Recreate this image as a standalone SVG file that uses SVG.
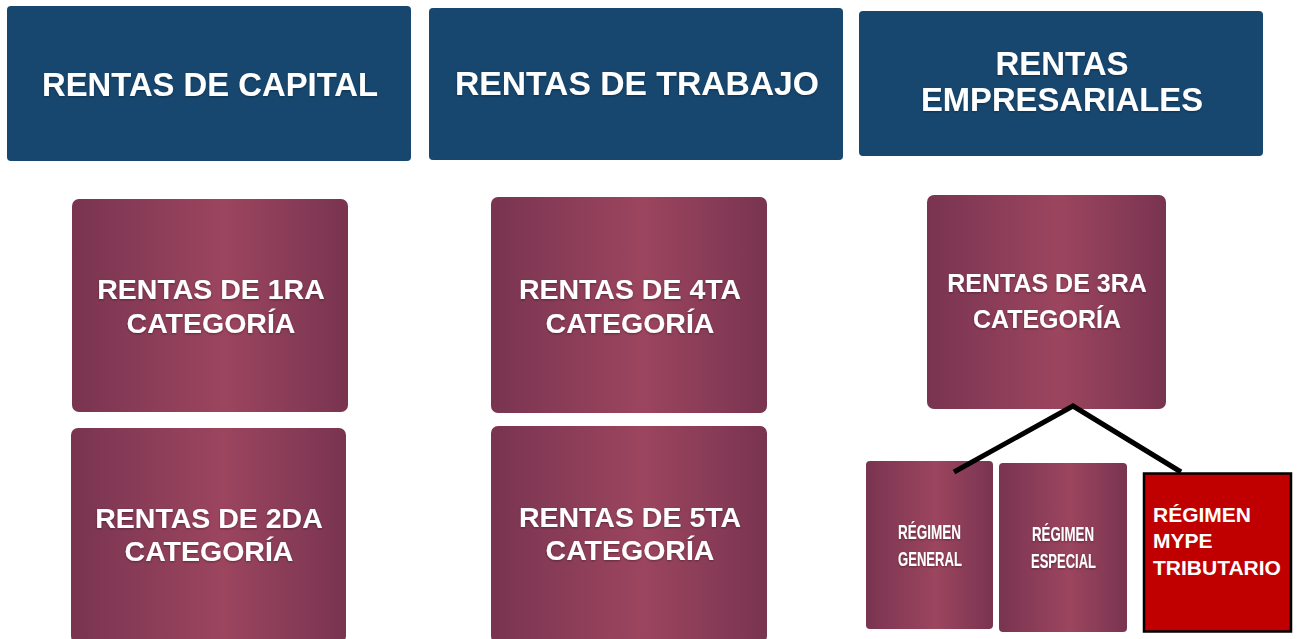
<svg xmlns="http://www.w3.org/2000/svg" width="1299" height="639" viewBox="0 0 1299 639">
  <defs>
    <linearGradient id="maroon" x1="0" y1="0" x2="1" y2="0">
      <stop offset="0" stop-color="#793450"/>
      <stop offset="0.55" stop-color="#9C455F"/>
      <stop offset="1" stop-color="#793450"/>
    </linearGradient>
    <filter id="glow" x="-5%" y="-20%" width="110%" height="140%">
      <feGaussianBlur in="SourceAlpha" stdDeviation="0.8"/>
      <feOffset dx="0" dy="0.5" result="b"/>
      <feFlood flood-color="#000" flood-opacity="0.35"/>
      <feComposite in2="b" operator="in"/>
      <feMerge><feMergeNode/><feMergeNode in="SourceGraphic"/></feMerge>
    </filter>
  </defs>
  <style>
    .hdr { fill: #17476F; }
    .cat { fill: url(#maroon); }
    .ht { font-family: "Liberation Sans", Arial, sans-serif; font-weight: bold; font-size: 33px; fill: #ffffff; text-anchor: middle; }
    .ct { font-family: "Liberation Sans", Arial, sans-serif; font-weight: bold; font-size: 28.5px; fill: #ffffff; text-anchor: middle; }
    .rt { font-family: "Liberation Sans Narrow", "Liberation Sans", Arial, sans-serif; font-weight: bold; font-size: 20px; fill: #ffffff; }
    .mt { font-family: "Liberation Sans", Arial, sans-serif; font-weight: bold; font-size: 21px; fill: #ffffff; }
    .conn { stroke: #000000; stroke-width: 5; fill: none; }
  </style>
  <rect width="1299" height="639" fill="#ffffff"/>

  <g id="capital">
    <rect class="hdr" x="7" y="6" width="404" height="155" rx="4"/>
    <text class="ht" x="210" y="96" textLength="336" lengthAdjust="spacingAndGlyphs" filter="url(#glow)">RENTAS DE CAPITAL</text>
  </g>
  <g id="trabajo">
    <rect class="hdr" x="429" y="8" width="414" height="152" rx="4"/>
    <text class="ht" x="637" y="95" textLength="364" lengthAdjust="spacingAndGlyphs" filter="url(#glow)">RENTAS DE TRABAJO</text>
  </g>
  <g id="empresariales">
    <rect class="hdr" x="859" y="11" width="404" height="145" rx="4"/>
    <text class="ht" x="1062" y="75" filter="url(#glow)">RENTAS</text>
    <text class="ht" x="1062" y="111" textLength="282" lengthAdjust="spacingAndGlyphs" filter="url(#glow)">EMPRESARIALES</text>
  </g>

  <g id="cat1">
    <rect class="cat" x="72" y="199" width="276" height="213" rx="7"/>
    <text class="ct" x="211" y="299" filter="url(#glow)">RENTAS DE 1RA</text>
    <text class="ct" x="211" y="333" filter="url(#glow)">CATEGORÍA</text>
  </g>
  <g id="cat2">
    <rect class="cat" x="71" y="428" width="275" height="215" rx="7"/>
    <text class="ct" x="209" y="528" filter="url(#glow)">RENTAS DE 2DA</text>
    <text class="ct" x="209" y="561" filter="url(#glow)">CATEGORÍA</text>
  </g>
  <g id="cat4">
    <rect class="cat" x="491" y="197" width="276" height="216" rx="7"/>
    <text class="ct" x="630" y="299" filter="url(#glow)">RENTAS DE 4TA</text>
    <text class="ct" x="630" y="333" filter="url(#glow)">CATEGORÍA</text>
  </g>
  <g id="cat5">
    <rect class="cat" x="491" y="426" width="276" height="217" rx="7"/>
    <text class="ct" x="630" y="527" filter="url(#glow)">RENTAS DE 5TA</text>
    <text class="ct" x="630" y="560" filter="url(#glow)">CATEGORÍA</text>
  </g>
  <g id="cat3">
    <rect class="cat" x="927" y="195" width="239" height="214" rx="7"/>
    <text class="ct" x="1047" y="292" style="font-size:25px" filter="url(#glow)">RENTAS DE 3RA</text>
    <text class="ct" x="1047" y="328" style="font-size:25px" filter="url(#glow)">CATEGORÍA</text>
  </g>

  <g id="regimen-general">
    <rect class="cat" x="866" y="461" width="127" height="168" rx="4"/>
    <text class="rt" x="898" y="539" textLength="63" lengthAdjust="spacingAndGlyphs" filter="url(#glow)">RÉGIMEN</text>
    <text class="rt" x="898" y="566" textLength="64" lengthAdjust="spacingAndGlyphs" filter="url(#glow)">GENERAL</text>
  </g>
  <g id="regimen-especial">
    <rect class="cat" x="999" y="463" width="128" height="169" rx="4"/>
    <text class="rt" x="1032" y="541" textLength="62" lengthAdjust="spacingAndGlyphs" filter="url(#glow)">RÉGIMEN</text>
    <text class="rt" x="1031" y="568" textLength="65" lengthAdjust="spacingAndGlyphs" filter="url(#glow)">ESPECIAL</text>
  </g>
  <g id="regimen-mype">
    <rect x="1144" y="473.5" width="147" height="158" fill="#C00000" stroke="#000000" stroke-width="2.5"/>
    <text class="mt" x="1153" y="522">RÉGIMEN</text>
    <text class="mt" x="1153" y="548">MYPE</text>
    <text class="mt" x="1153" y="575">TRIBUTARIO</text>
  </g>

  <g id="connectors">
    <polyline class="conn" points="954,472 1073,406 1181,472"/>
  </g>
</svg>
